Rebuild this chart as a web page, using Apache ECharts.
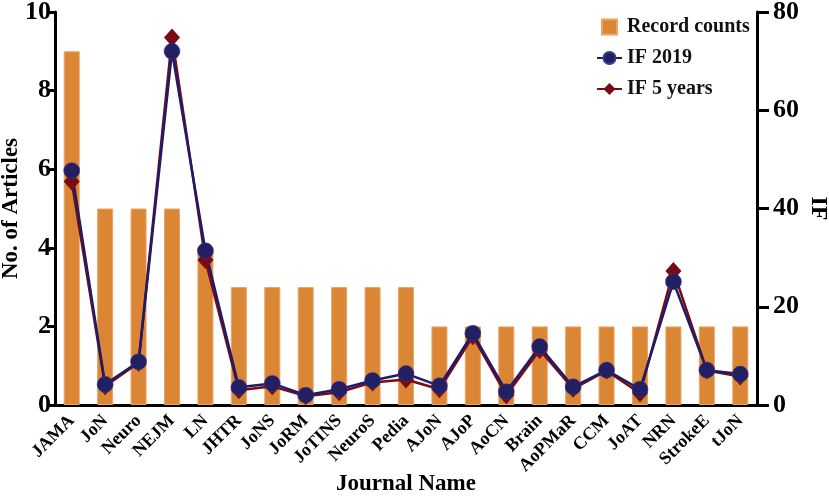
<!DOCTYPE html>
<html>
<head>
<meta charset="utf-8">
<script src="https://cdn.jsdelivr.net/npm/echarts@6/dist/echarts.min.js"></script>
<style>
html,body{margin:0;padding:0;background:#fff;}
#chart{width:829px;height:499px;}
</style>
</head>
<body>
<div id="chart"></div>
<script>
var journals = ['JAMA','JoN','Neuro','NEJM','LN','JHTR','JoNS','JoRM','JoTINS','NeuroS','Pedia','AJoN','AJoP','AoCN','Brain','AoPMaR','CCM','JoAT','NRN','StrokeE','tJoN'];
var recordCounts = [9,5,5,5,4,3,3,3,3,3,3,2,2,2,2,2,2,2,2,2,2];
var if2019 = [47.7,4.2,8.8,72.0,31.4,3.6,4.4,2.0,3.2,5.0,6.4,3.9,14.6,2.7,11.9,3.7,7.1,3.2,25.1,7.1,6.3];
var if5years = [45.5,3.8,8.6,74.8,29.5,3.0,3.8,1.8,2.6,4.6,5.2,3.2,14.0,2.0,11.2,3.3,7.0,2.4,27.3,7.0,5.8];
var leftTicks = {min:0,max:10,interval:2};
var rightTicks = {min:0,max:80,interval:20};

var FONT = 'Liberation Serif';
var chart = echarts.init(document.getElementById('chart'));
var axisLineStyle = {color:'#000', width:3};
chart.setOption({
  animation:false,
  backgroundColor:'#fff',
  grid:{left:55,right:72,top:12,bottom:94,containLabel:false,outerBoundsMode:'none'},
  legend:{
    orient:'vertical',
    left:591, top:12,
    itemWidth:25, itemHeight:15, itemGap:11,
    textStyle:{fontFamily:FONT,fontWeight:'bold',fontSize:20,color:'#111'},
    data:[
      {name:'Record counts', icon:'path://M0,0L1,0L1,1L0,1Z'},
      {name:'IF 2019'},
      {name:'IF 5 years'}
    ]
  },
  xAxis:{
    type:'category',
    data:journals,
    name:'Journal Name',
    nameLocation:'middle',
    nameGap:68,
    nameMoveOverlap:false,
    nameTextStyle:{fontFamily:FONT,fontWeight:'bold',fontSize:23,color:'#000'},
    axisLine:{lineStyle:axisLineStyle},
    axisTick:{alignWithLabel:true,length:8,lineStyle:{width:3,color:'#000'}},
    axisLabel:{rotate:45,margin:13,fontFamily:FONT,fontWeight:'bold',fontSize:18,color:'#000',interval:0}
  },
  yAxis:[{
    type:'value',
    min:leftTicks.min,max:leftTicks.max,interval:leftTicks.interval,
    name:'No. of Articles',
    nameLocation:'middle',
    nameGap:32,
    nameMoveOverlap:false,
    nameTextStyle:{fontFamily:FONT,fontWeight:'bold',fontSize:23,color:'#000'},
    axisLine:{show:true,lineStyle:axisLineStyle},
    axisTick:{show:true,length:8,lineStyle:{width:3,color:'#000'}},
    axisLabel:{margin:4,fontFamily:FONT,fontWeight:'bold',fontSize:26,color:'#000'},
    splitLine:{show:false}
  },{
    type:'value',
    position:'right',
    min:rightTicks.min,max:rightTicks.max,interval:rightTicks.interval,
    name:'IF',
    nameLocation:'middle',
    nameGap:49,
    nameRotate:-90,
    nameMoveOverlap:false,
    nameTextStyle:{fontFamily:FONT,fontWeight:'bold',fontSize:24,color:'#000'},
    axisLine:{show:true,lineStyle:axisLineStyle},
    axisTick:{show:true,length:12,lineStyle:{width:3,color:'#000'}},
    axisLabel:{margin:16,fontFamily:FONT,fontWeight:'bold',fontSize:26,color:'#000'},
    splitLine:{show:false}
  }],
  series:[{
    name:'Record counts',
    type:'bar',
    data:recordCounts,
    barWidth:16,
    itemStyle:{color:'#DB8634',borderColor:'#EBA462',borderWidth:1}
  },{
    name:'IF 5 years',
    type:'line',
    yAxisIndex:1,
    data:if5years,
    symbol:'diamond',
    symbolSize:[16,18],
    lineStyle:{color:'#7A0A14',width:2.5},
    itemStyle:{color:'#7A0A14'}
  },{
    name:'IF 2019',
    type:'line',
    yAxisIndex:1,
    data:if2019,
    symbol:'circle',
    symbolSize:16,
    lineStyle:{color:'#1E1B6A',width:2.5},
    itemStyle:{color:'#231F63',borderColor:'#3a3a8a',borderWidth:0.5}
  }]
});
</script>
</body>
</html>
